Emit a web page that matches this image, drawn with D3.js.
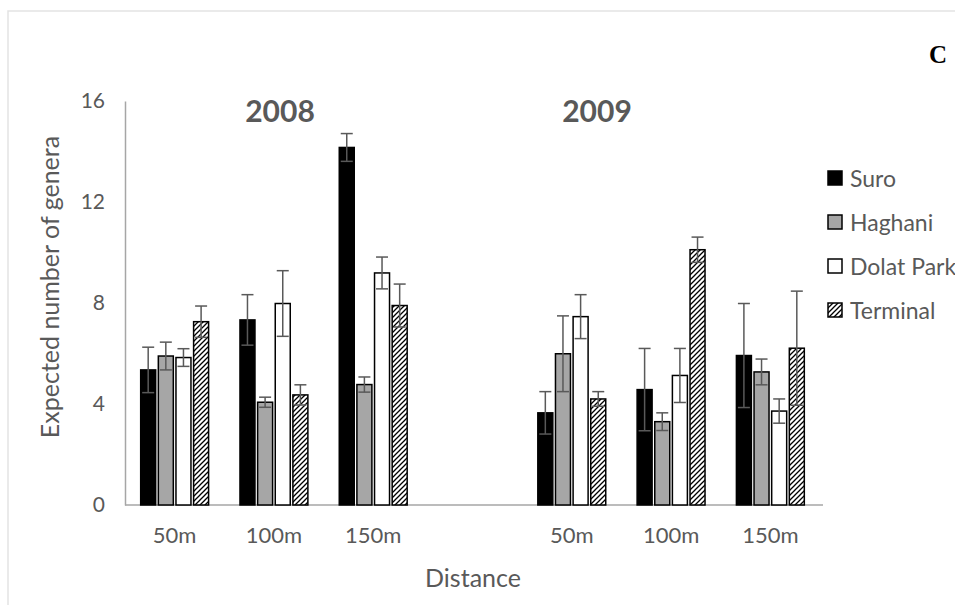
<!DOCTYPE html>
<html>
<head>
<meta charset="utf-8" />
<title></title>
<style>
html, body {
    padding: 0px;
    margin: 0px;
    width: 100%;
    height: 100%;
    background: #fff;
    overflow: hidden;
}
text {
    font-family: Lato, "Open Sans", sans-serif;
    fill: #595959;
}
</style>
</head>

<body>
<div id="chart"></div>

<script src="https://cdnjs.cloudflare.com/ajax/libs/d3/7.8.5/d3.min.js"></script>
<script>
// data
var years = ["2008", "2009"]
var distances = ["50m", "100m", "150m"]
var sites = ["Suro", "Haghani", "Dolat Park", "Terminal"]
var yTicks = [0, 4, 8, 12, 16]

// mean per site, [2008 50m,100m,150m, 2009 50m,100m,150m]
var suro      = [5.35, 7.33, 14.16, 3.65, 4.57, 5.92]
var haghani   = [5.9, 4.07, 4.77, 5.99, 3.3, 5.27]
var dolatPark = [5.84, 7.98, 9.19, 7.46, 5.13, 3.72]
var terminal  = [7.26, 4.36, 7.9, 4.2, 10.11, 6.21]

// standard error per site
var suroErr      = [0.9, 1.0, 0.55, 0.84, 1.63, 2.06]
var haghaniErr   = [0.55, 0.2, 0.3, 1.5, 0.35, 0.51]
var dolatParkErr = [0.35, 1.3, 0.63, 0.87, 1.07, 0.48]
var terminalErr  = [0.62, 0.4, 0.85, 0.29, 0.5, 2.26]

!(function(){
    "use strict"

    var W = 955, H = 605
    var values = [suro, haghani, dolatPark, terminal]
    var errors = [suroErr, haghaniErr, dolatParkErr, terminalErr]
    var fills = ["#000000", "#a6a6a6", "#ffffff", "url(#hatch)"]

    // 7 slots on the axis, the 4th one is the empty gap between years
    var slots = []
    years.forEach(function(yr, i){
        if (i > 0) slots.push("gap")
        distances.forEach(function(d){ slots.push(yr + "|" + d) })
    })

    var svg = d3.select("#chart").append("svg")
        .attr("width", W).attr("height", H)

    main()

    function main() {
        addDefs()
        frame()
        var sc = scales()
        drawAxes(sc)
        drawBars(sc)
        drawTexts()
        drawLegend()
    }

    function addDefs() {
        var p = svg.append("defs").append("pattern")
            .attr("id", "hatch")
            .attr("patternUnits", "userSpaceOnUse")
            .attr("width", 5).attr("height", 5)
        p.append("rect").attr("width", 5).attr("height", 5).attr("fill", "#fff")
        p.append("path")
            .attr("d", "M-1,1 l2,-2 M0,5 l5,-5 M4,6 l2,-2")
            .attr("stroke", "#000").attr("stroke-width", 1.3)
    }

    function frame() {
        // light chart-area border, runs off the right/bottom
        svg.append("rect")
            .attr("x", 8).attr("y", 11)
            .attr("width", W + 20).attr("height", H + 20)
            .attr("fill", "none")
            .attr("stroke", "#e3e3e3").attr("stroke-width", 1.5)
    }

    function scales() {
        var x0 = d3.scaleBand().domain(slots).range([125, 820])
        var bw = x0.bandwidth()
        var x1 = d3.scaleBand().domain(sites)
            .range([bw * 0.158, bw * 0.842]).paddingInner(0.15)
        var y = d3.scaleLinear().domain([0, 16]).range([505, 101])
        return {x0: x0, x1: x1, y: y}
    }

    function drawAxes(sc) {
        var yAxis = svg.append("g")
            .attr("transform", "translate(125,0)")
            .call(d3.axisLeft(sc.y).tickValues(yTicks).tickSize(0).tickPadding(20))
        yAxis.select(".domain").attr("stroke", "#a6a6a6").attr("stroke-width", 1.5)
        yAxis.selectAll("text")
            .style("font-family", "Lato, sans-serif")
            .style("font-size", "21px").attr("fill", "#595959")

        var labels = slots.map(function(s){ return s === "gap" ? "" : s.split("|")[1] })
        var xAxis = svg.append("g")
            .attr("transform", "translate(0," + sc.y(0) + ")")
            .call(d3.axisBottom(sc.x0).tickSize(0).tickPadding(22)
                .tickFormat(function(d, i){ return labels[i] }))
        xAxis.select(".domain").attr("stroke", "#a6a6a6").attr("stroke-width", 1.5)
            .attr("d", "M125,0H823")
        xAxis.selectAll("text")
            .style("font-family", "Lato, sans-serif")
            .style("font-size", "22px").attr("fill", "#595959")
    }

    function drawBars(sc) {
        var cells = []
        slots.filter(function(s){ return s !== "gap" }).forEach(function(s, j){
            sites.forEach(function(site, k){
                cells.push({slot: s, site: site, k: k, v: values[k][j], e: errors[k][j]})
            })
        })

        var g = svg.append("g")
        var bw = sc.x1.bandwidth()

        g.selectAll("rect.bar").data(cells).enter().append("rect")
            .attr("class", "bar")
            .attr("x", function(d){ return sc.x0(d.slot) + sc.x1(d.site) })
            .attr("y", function(d){ return sc.y(d.v) })
            .attr("width", bw)
            .attr("height", function(d){ return sc.y(0) - sc.y(d.v) })
            .attr("fill", function(d){ return fills[d.k] })
            .attr("stroke", "#000").attr("stroke-width", 1.5)

        // error bars, both directions
        var eb = g.selectAll("g.err").data(cells).enter().append("g")
            .attr("class", "err")
            .attr("transform", function(d){
                return "translate(" + (sc.x0(d.slot) + sc.x1(d.site) + bw / 2) + ",0)"
            })
            .attr("stroke", "#595959").attr("stroke-width", 1.5)
        eb.append("line")
            .attr("y1", function(d){ return sc.y(d.v - d.e) })
            .attr("y2", function(d){ return sc.y(d.v + d.e) })
        eb.append("line").attr("x1", -6).attr("x2", 6)
            .attr("y1", function(d){ return sc.y(d.v + d.e) })
            .attr("y2", function(d){ return sc.y(d.v + d.e) })
        eb.append("line").attr("x1", -6).attr("x2", 6)
            .attr("y1", function(d){ return sc.y(d.v - d.e) })
            .attr("y2", function(d){ return sc.y(d.v - d.e) })
    }

    function drawTexts() {
        var titleX = [280, 597]
        svg.selectAll("text.year").data(years).enter().append("text")
            .attr("class", "year")
            .attr("x", function(d, i){ return titleX[i] })
            .attr("y", 122)
            .attr("text-anchor", "middle")
            .style("font-size", "30px").style("font-weight", "bold")
            .text(function(d){ return d })

        svg.append("text")
            .attr("transform", "translate(59,287) rotate(-90)")
            .attr("text-anchor", "middle")
            .style("font-size", "25px")
            .text("Expected number of genera")

        svg.append("text")
            .attr("x", 473).attr("y", 587)
            .attr("text-anchor", "middle")
            .style("font-size", "25px")
            .text("Distance")

        svg.append("text")
            .attr("x", 929).attr("y", 63)
            .style("font-family", "'Liberation Serif', 'Times New Roman', serif")
            .style("font-size", "25px").style("font-weight", "bold")
            .style("fill", "#000")
            .text("C")
    }

    function drawLegend() {
        var lg = svg.append("g").selectAll("g").data(sites).enter().append("g")
            .attr("transform", function(d, i){ return "translate(828," + (171 + i * 44) + ")" })
        lg.append("rect")
            .attr("width", 14).attr("height", 14)
            .attr("fill", function(d, i){ return fills[i] })
            .attr("stroke", "#000").attr("stroke-width", 1.5)
        lg.append("text")
            .attr("x", 22).attr("y", 7)
            .attr("dominant-baseline", "central")
            .style("font-size", "23px")
            .text(function(d){ return d })
    }

}());
</script>
</body>
</html>
